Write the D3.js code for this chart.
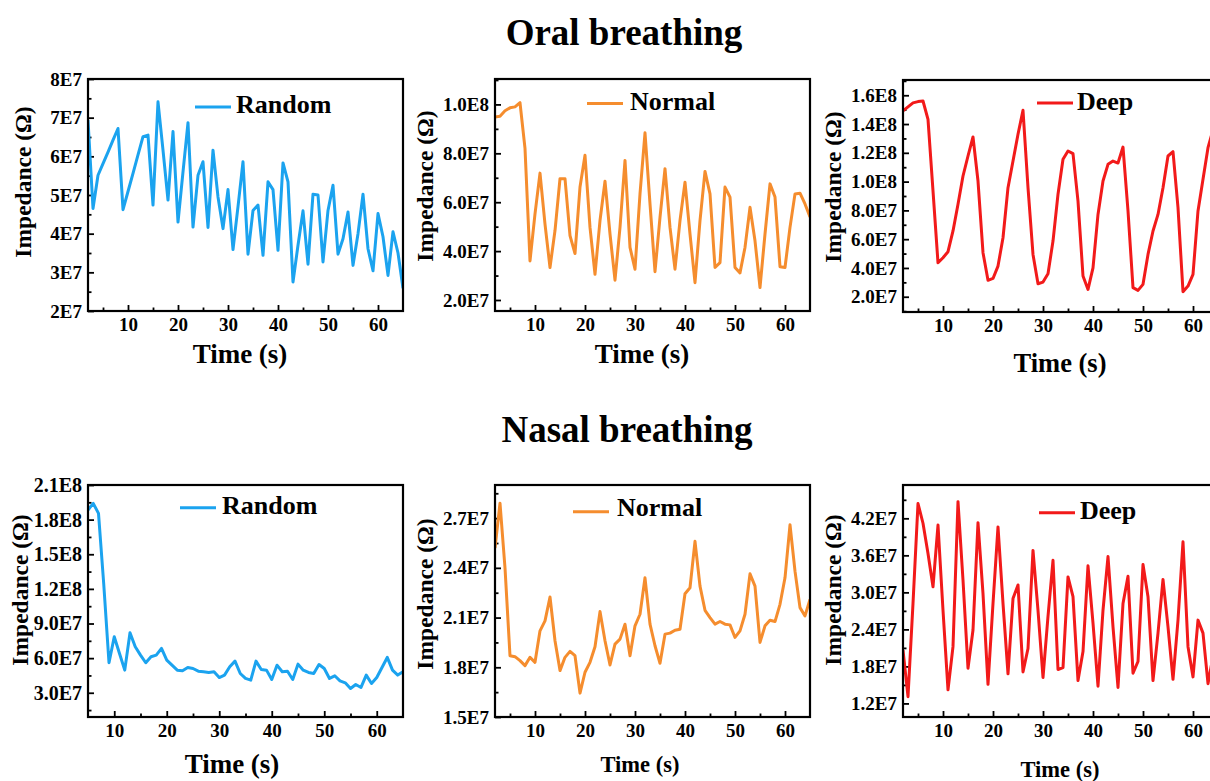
<!DOCTYPE html>
<html>
<head>
<meta charset="utf-8">
<script src="https://cdn.jsdelivr.net/npm/d3@7"></script>
<style>
  body { margin: 0; background: #fff; }
  svg text { font-family: "Liberation Serif", "Times New Roman", serif; font-weight: bold; fill: #000; }
</style>
</head>
<body>
<svg id="fig" width="1210" height="781"></svg>
<script>
// values are in units of 1E7 ohm, one sample per second
var oralStart = 2, nasalRandomStart = 5, nasalStart = 2;

var oralRandom = [6.94, 4.65, 5.51, 5.81, 6.11, 6.42, 6.72, 4.62, 5.09, 5.56,   // t 2-11
  6.04, 6.51, 6.55, 4.74, 7.41, 6.16, 4.87, 6.64, 4.30, 5.60,                     // 12-21
  6.87, 4.17, 5.51, 5.86, 4.16, 6.16, 4.95, 4.13, 5.14, 3.59,                     // 22-31
  4.70, 5.86, 3.47, 4.60, 4.74, 3.44, 5.34, 5.14, 3.57, 5.83,                     // 32-41
  5.34, 2.75, 3.70, 4.59, 3.21, 5.02, 5.00, 3.27, 4.60, 5.25,                     // 42-51
  3.47, 3.87, 4.56, 3.18, 4.00, 5.02, 3.61, 3.04, 4.52, 3.92,                     // 52-61
  2.92, 4.05, 3.50, 2.59];                                                        // 62-65

var oralNormal = [9.49, 9.52, 9.74, 9.86, 9.90, 10.07, 8.20, 3.60, 5.52, 7.19,
  5.10, 3.33, 4.84, 6.96, 6.96, 4.63, 3.90, 6.62, 7.92, 4.97,
  3.05, 5.25, 6.86, 4.70, 2.81, 4.97, 7.71, 4.15, 3.26, 6.34,
  8.84, 5.93, 3.16, 5.38, 7.37, 4.97, 3.26, 5.25, 6.82, 4.70,
  2.71, 5.25, 7.26, 6.34, 3.33, 3.53, 6.62, 6.21, 3.33, 3.11,
  4.15, 5.79, 4.42, 2.51, 4.70, 6.75, 6.21, 3.36, 3.33, 4.97,
  6.34, 6.37, 5.93, 5.40];

var oralDeep = [14.91, 15.19, 15.47, 15.56, 15.60, 14.33, 9.35, 4.36, 4.71, 5.13,
  6.57, 8.42, 10.39, 11.78, 13.10, 10.04, 5.06, 3.14, 3.27, 4.13,
  6.10, 9.58, 11.43, 13.29, 14.96, 9.58, 4.94, 2.90, 3.02, 3.60,
  5.87, 9.12, 11.55, 12.13, 11.94, 8.65, 3.44, 2.51, 4.01, 7.72,
  10.04, 11.20, 11.43, 11.29, 12.40, 7.96, 2.63, 2.44, 2.86, 4.94,
  6.57, 7.72, 9.58, 11.78, 12.08, 8.19, 2.35, 2.74, 3.55, 7.96,
  10.16, 12.36, 13.60, 14.20];

var nasalRandom = [18.83, 19.41, 18.54, 12.40, 5.60, 7.85, 6.40, 4.96, 8.20, 6.98,   // t 5-14
  6.26, 5.60, 6.12, 6.26, 6.84, 5.83, 5.39, 4.96, 4.90, 5.19,
  5.10, 4.87, 4.82, 4.76, 4.82, 4.32, 4.53, 5.25, 5.74, 4.67,
  4.24, 4.09, 5.74, 5.02, 4.96, 4.15, 5.39, 4.82, 4.87, 4.15,
  5.48, 4.96, 4.76, 4.67, 5.45, 5.10, 4.24, 4.47, 4.03, 3.86,
  3.37, 3.72, 3.46, 4.53, 3.80, 4.32, 5.19, 6.06, 4.96, 4.53,
  4.82];

var nasalNormal = [2.52, 2.79, 2.40, 1.87, 1.864, 1.84, 1.81, 1.86, 1.83, 2.02,
  2.08, 2.224, 1.96, 1.78, 1.86, 1.896, 1.87, 1.644, 1.77, 1.83,
  1.924, 2.136, 1.96, 1.814, 1.94, 1.97, 2.06, 1.87, 2.05, 2.12,
  2.34, 2.06, 1.93, 1.824, 2.00, 2.006, 2.024, 2.03, 2.244, 2.28,
  2.56, 2.29, 2.144, 2.10, 2.06, 2.076, 2.06, 2.056, 1.98, 2.02,
  2.12, 2.364, 2.29, 1.95, 2.05, 2.084, 2.076, 2.18, 2.34, 2.66,
  2.38, 2.16, 2.11, 2.21];

var nasalDeep = [2.065, 1.31, 2.82, 4.44, 4.12, 3.63, 3.09, 4.09, 2.71, 1.42,
  2.12, 4.47, 3.20, 1.77, 2.39, 4.13, 2.98, 1.51, 2.82, 4.06,
  2.82, 1.68, 2.90, 3.12, 1.71, 2.09, 3.68, 2.71, 1.62, 2.61,
  3.52, 1.75, 1.78, 3.25, 2.93, 1.57, 2.04, 3.43, 2.50, 1.48,
  2.71, 3.58, 2.44, 1.46, 2.82, 3.26, 1.69, 1.88, 3.45, 2.93,
  1.57, 2.34, 3.21, 2.44, 1.59, 2.55, 3.82, 2.12, 1.63, 2.55,
  2.34, 1.52, 1.96, 2.20];

var timeTicks = ["10", "20", "30", "40", "50", "60"];
var oralRandomTicks = ["2E7", "3E7", "4E7", "5E7", "6E7", "7E7", "8E7"];
var oralNormalTicks = ["2.0E7", "4.0E7", "6.0E7", "8.0E7", "1.0E8"];
var oralDeepTicks = ["2.0E7", "4.0E7", "6.0E7", "8.0E7", "1.0E8", "1.2E8", "1.4E8", "1.6E8"];
var nasalRandomTicks = ["3.0E7", "6.0E7", "9.0E7", "1.2E8", "1.5E8", "1.8E8", "2.1E8"];
var nasalNormalTicks = ["1.5E7", "1.8E7", "2.1E7", "2.4E7", "2.7E7"];
var nasalDeepTicks = ["1.2E7", "1.8E7", "2.4E7", "3.0E7", "3.6E7", "4.2E7"];

var blue = "#1ba3ef", orange = "#f58d2e", red = "#f21a1a";

var svg = d3.select("#fig");

var panels = [
  {name: "Random", color: blue, values: oralRandom, start: oralStart, ticks: oralRandomTicks,
   left: 88, top: 79, xDomain: [2, 65], yDomain: [2e7, 8e7], tickFs: 19,
   leg: [107, 28, 148, 34], yTitle: [31, 182], xTitle: [240, 363, 27]},
  {name: "Normal", color: orange, values: oralNormal, start: oralStart, ticks: oralNormalTicks,
   left: 495, top: 79, xDomain: [2, 65], yDomain: [1.55e7, 1.104e8], tickFs: 19,
   leg: [92, 24.5, 135, 31], yTitle: [433, 186], xTitle: [642, 363, 27]},
  {name: "Deep", color: red, values: oralDeep, start: oralStart, ticks: oralDeepTicks,
   left: 903, top: 80, xDomain: [2, 65], yDomain: [9.4e6, 1.706e8], tickFs: 19,
   leg: [134, 23, 174, 30], yTitle: [841, 187], xTitle: [1060, 372, 26.5]},
  {name: "Random", color: blue, values: nasalRandom, start: nasalRandomStart, ticks: nasalRandomTicks,
   left: 88, top: 485, xDomain: [5, 65], yDomain: [9e6, 2.1e8], tickFs: 20,
   leg: [92, 22.7, 134, 29], yTitle: [28, 590], xTitle: [232, 773, 27]},
  {name: "Normal", color: orange, values: nasalNormal, start: nasalStart, ticks: nasalNormalTicks,
   left: 495, top: 485, xDomain: [2, 65], yDomain: [1.5e7, 2.9e7], tickFs: 19,
   leg: [78, 26.7, 122, 31], yTitle: [433, 594], xTitle: [640, 772, 22.5]},
  {name: "Deep", color: red, values: nasalDeep, start: nasalStart, ticks: nasalDeepTicks,
   left: 903, top: 485, xDomain: [2, 65], yDomain: [9.8e6, 4.74e7], tickFs: 19,
   leg: [136, 27.7, 177, 34], yTitle: [841, 590], xTitle: [1060, 777, 22.5]}
];

var W = 315, H = 232;

panels.forEach(function(p, k) {
  var x = d3.scaleLinear().domain(p.xDomain).range([0, W]);
  var y = d3.scaleLinear().domain(p.yDomain).range([H, 0]);
  var g = svg.append("g").attr("transform", "translate(" + p.left + "," + p.top + ")");

  g.append("clipPath").attr("id", "clip" + k)
    .append("rect").attr("width", W).attr("height", H);

  var yVals = p.ticks.map(Number);
  var ystep = yVals[1] - yVals[0];
  var yMinor = d3.range(yVals[0] - ystep / 2, p.yDomain[1], ystep)
    .filter(function(d) { return d > p.yDomain[0] && d < p.yDomain[1]; });
  var xVals = timeTicks.map(Number);
  var xMinor = d3.range(5, 66, 10).filter(function(d) { return d > p.xDomain[0] && d < p.xDomain[1]; });

  // major + minor ticks, pointing inward
  var ya = g.append("g").call(d3.axisLeft(y).tickValues(yVals)
      .tickFormat(function(d) { return p.ticks[yVals.indexOf(d)]; })
      .tickSizeInner(-6).tickSizeOuter(0).tickPadding(6));
  g.append("g").call(d3.axisLeft(y).tickValues(yMinor).tickFormat("").tickSizeInner(-3.5).tickSizeOuter(0));
  var xa = g.append("g").attr("transform", "translate(0," + H + ")")
    .call(d3.axisBottom(x).tickValues(xVals).tickFormat(function(d) { return d; })
      .tickSizeInner(-6).tickSizeOuter(0).tickPadding(7));
  g.append("g").attr("transform", "translate(0," + H + ")")
    .call(d3.axisBottom(x).tickValues(xMinor).tickFormat("").tickSizeInner(-3.5).tickSizeOuter(0));
  g.selectAll(".domain").remove();
  g.selectAll(".tick line").attr("stroke", "#000").attr("stroke-width", 1.8);
  ya.selectAll("text").style("font-size", p.tickFs + "px");
  xa.selectAll("text").style("font-size", "19px");

  var line = d3.line()
    .x(function(d, i) { return x(p.start + i); })
    .y(function(d) { return y(d * 1e7); });

  g.append("path")
    .datum(p.values)
    .attr("clip-path", "url(#clip" + k + ")")
    .attr("fill", "none")
    .attr("stroke", p.color)
    .attr("stroke-width", 3)
    .attr("stroke-linejoin", "round")
    .attr("d", line);

  g.append("rect").attr("width", W).attr("height", H)
    .attr("fill", "none").attr("stroke", "#000").attr("stroke-width", 2.2);

  // legend
  g.append("line")
    .attr("x1", p.leg[0]).attr("x2", p.leg[0] + 36)
    .attr("y1", p.leg[1]).attr("y2", p.leg[1])
    .attr("stroke", p.color).attr("stroke-width", 3);
  g.append("text").attr("x", p.leg[2]).attr("y", p.leg[3])
    .style("font-size", "26px").text(p.name);

  svg.append("text")
    .attr("transform", "translate(" + p.yTitle[0] + "," + p.yTitle[1] + ") rotate(-90)")
    .attr("text-anchor", "middle").style("font-size", "23.5px")
    .text("Impedance (Ω)");
  svg.append("text")
    .attr("x", p.xTitle[0]).attr("y", p.xTitle[1])
    .attr("text-anchor", "middle").style("font-size", p.xTitle[2] + "px")
    .text("Time (s)");
});

svg.append("text").attr("x", 624).attr("y", 45).attr("text-anchor", "middle")
  .style("font-size", "37px").text("Oral breathing");
svg.append("text").attr("x", 627).attr("y", 442).attr("text-anchor", "middle")
  .style("font-size", "37px").text("Nasal breathing");
</script>
</body>
</html>
